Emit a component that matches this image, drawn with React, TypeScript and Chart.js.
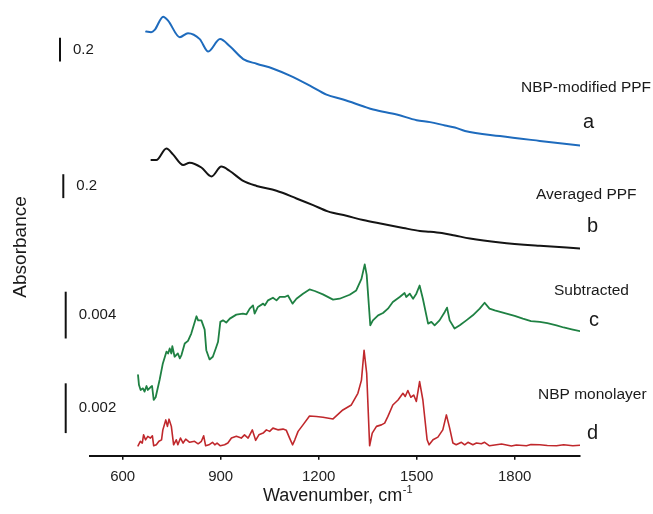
import React, { useEffect, useRef } from "react";
import { Chart, registerables } from "chart.js";

Chart.register(...registerables);

const FONT = "'Liberation Sans', Arial, Helvetica, sans-serif";

// x-axis tick labels (cm-1)
const xTickValues = [600, 900, 1200, 1500, 1800];

// (a) NBP-modified PPF
const modWavenumber = [672, 687, 698, 724, 739, 775, 800, 836, 862, 898, 929, 969, 1010, 1061, 1112, 1173, 1224, 1275, 1336, 1367, 1439, 1500, 1541, 1587, 1617, 1648, 1755, 1877, 2000];
const modAbsorbance = [0.986, 0.981, 1.0, 1.111, 1.078, 0.939, 0.973, 0.923, 0.819, 0.923, 0.861, 0.756, 0.717, 0.675, 0.617, 0.533, 0.458, 0.417, 0.361, 0.333, 0.292, 0.244, 0.228, 0.2, 0.183, 0.154, 0.111, 0.071, 0.033];

// (b) Averaged PPF
const avgWavenumber = [688, 703, 734, 754, 785, 805, 841, 872, 902, 928, 969, 1010, 1071, 1132, 1183, 1228, 1285, 1336, 1397, 1459, 1510, 1541, 1577, 1617, 1663, 1755, 1877, 2000];
const avgAbsorbance = [0.786, 0.786, 0.883, 0.833, 0.744, 0.764, 0.723, 0.648, 0.731, 0.694, 0.611, 0.569, 0.528, 0.464, 0.408, 0.356, 0.319, 0.283, 0.25, 0.217, 0.192, 0.186, 0.175, 0.154, 0.129, 0.096, 0.068, 0.046];

// (c) Subtracted
const subWavenumber = [647, 650, 655, 662, 667, 673, 677, 685, 690, 695, 701, 713, 723, 734, 739, 744, 749, 752, 759, 769, 775, 780, 790, 800, 810, 826, 831, 841, 851, 856, 866, 876, 885, 892, 899, 907, 917, 928, 948, 968, 979, 989, 999, 1004, 1014, 1030, 1035, 1045, 1060, 1071, 1081, 1096, 1106, 1120, 1132, 1152, 1172, 1188, 1213, 1244, 1264, 1295, 1315, 1331, 1341, 1347, 1358, 1366, 1382, 1397, 1412, 1427, 1448, 1463, 1468, 1479, 1489, 1499, 1509, 1519, 1535, 1545, 1555, 1570, 1586, 1593, 1601, 1616, 1632, 1652, 1672, 1693, 1708, 1723, 1739, 1775, 1800, 1825, 1850, 1877, 1900, 1928, 1950, 1978, 2000];
const subAbsorbance = [0.00283, 0.00198, 0.00156, 0.0017, 0.00142, 0.0019, 0.00156, 0.00179, 0.0019, 0.00071, 0.00094, 0.00241, 0.00383, 0.00483, 0.00468, 0.00511, 0.00468, 0.0053, 0.0044, 0.00468, 0.00426, 0.00454, 0.00553, 0.00576, 0.00638, 0.00786, 0.00751, 0.00751, 0.00672, 0.00496, 0.00417, 0.0044, 0.00511, 0.00568, 0.00738, 0.00751, 0.00732, 0.00766, 0.008, 0.00809, 0.00803, 0.00851, 0.00879, 0.00809, 0.00866, 0.00894, 0.00879, 0.00922, 0.00945, 0.00922, 0.00951, 0.00951, 0.00964, 0.00894, 0.00936, 0.00979, 0.01015, 0.01002, 0.00973, 0.00928, 0.00936, 0.0097, 0.01007, 0.01106, 0.0123, 0.0114, 0.00709, 0.00751, 0.00794, 0.00814, 0.00851, 0.00908, 0.00951, 0.00985, 0.00951, 0.00979, 0.00936, 0.00979, 0.01049, 0.00936, 0.00723, 0.00738, 0.00709, 0.00751, 0.00823, 0.0086, 0.00751, 0.00681, 0.00709, 0.00751, 0.00794, 0.00851, 0.00902, 0.00851, 0.00837, 0.00809, 0.0079, 0.00766, 0.00745, 0.00738, 0.00728, 0.00709, 0.0069, 0.00672, 0.00658];

// (d) NBP monolayer
const monoWavenumber = [647, 654, 660, 664, 670, 677, 685, 691, 695, 703, 711, 719, 723, 732, 737, 742, 749, 756, 764, 769, 777, 785, 793, 805, 820, 831, 841, 848, 854, 864, 875, 882, 889, 899, 912, 922, 933, 948, 963, 973, 984, 997, 1007, 1017, 1030, 1040, 1050, 1060, 1075, 1091, 1101, 1111, 1120, 1127, 1137, 1152, 1172, 1193, 1213, 1244, 1274, 1300, 1320, 1331, 1339, 1347, 1356, 1364, 1377, 1392, 1402, 1412, 1427, 1443, 1458, 1465, 1473, 1482, 1491, 1499, 1509, 1519, 1532, 1538, 1550, 1565, 1580, 1591, 1601, 1611, 1621, 1637, 1647, 1657, 1672, 1683, 1698, 1708, 1723, 1744, 1760, 1775, 1790, 1805, 1836, 1850, 1877, 1900, 1928, 1950, 1978, 2000];
const monoAbsorbance = [0.00009, 0.00027, 0.0002, 0.00053, 0.00033, 0.00047, 0.0004, 0.00049, 0.00009, 0.00013, 0.00027, 0.00033, 0.00073, 0.00113, 0.00087, 0.00116, 0.00087, 0.00013, 0.00033, 0.00013, 0.0004, 0.0002, 0.00036, 0.00023, 0.00027, 0.00017, 0.00027, 0.00049, 0.00009, 0.00013, 0.00023, 0.00013, 0.0002, 0.00009, 0.00013, 0.0002, 0.0004, 0.00047, 0.0004, 0.00053, 0.0004, 0.00073, 0.00031, 0.00053, 0.0006, 0.00073, 0.00067, 0.0008, 0.00073, 0.00076, 0.00071, 0.0004, 0.00013, 0.00033, 0.00067, 0.00093, 0.00129, 0.00127, 0.00124, 0.00117, 0.00153, 0.00173, 0.0022, 0.00273, 0.00393, 0.003, 0.00009, 0.0006, 0.00087, 0.00093, 0.001, 0.00127, 0.00173, 0.00193, 0.0022, 0.00207, 0.00231, 0.00204, 0.00213, 0.00187, 0.00267, 0.00193, 0.00033, 0.00013, 0.00033, 0.00044, 0.00073, 0.00133, 0.0008, 0.0002, 0.00013, 0.00023, 0.00013, 0.00023, 0.00013, 0.0002, 0.00017, 0.00023, 0.00009, 0.00013, 0.00016, 0.00012, 0.00008, 0.00012, 0.00009, 0.00014, 0.00013, 0.0001, 0.00009, 0.00013, 0.00009, 0.00011];

type Trace = {
  name: string;
  letter: string;
  wn: number[];
  abs: number[];
  color: string;
  width: number;
  smooth: boolean;
  offset: number; // vertical stacking offset (display units)
  gain: number; // display units per absorbance unit
  barFrom: number; // absorbance where scale bar starts
  barSize: number; // absorbance length of the scale bar
  barLabel: string;
  barDx: number;
  nameDx: number;
  nameY: number;
  letterDx: number;
  letterY: number;
};

const traces: Trace[] = [
  { name: "NBP-modified PPF", letter: "a", wn: modWavenumber, abs: modAbsorbance, color: "#1e6bbd", width: 2, smooth: true, offset: 307.7, gain: 120, barFrom: 0.735, barSize: 0.2, barLabel: "0.2", barDx: -30, nameDx: -59, nameY: 365, letterDx: 3, letterY: 328.7 },
  { name: "Averaged PPF", letter: "b", wn: avgWavenumber, abs: avgAbsorbance, color: "#141414", width: 2, smooth: true, offset: 202.7, gain: 120, barFrom: 0.467, barSize: 0.2, barLabel: "0.2", barDx: -26.7, nameDx: -44, nameY: 257.7, letterDx: 7, letterY: 224.7 },
  { name: "Subtracted", letter: "c", wn: subWavenumber, abs: subAbsorbance, color: "#1f8143", width: 1.8, smooth: false, offset: 47.7, gain: 11750, barFrom: 0.00596, barSize: 0.004, barLabel: "0.004", barDx: -24.3, nameDx: -26, nameY: 161, letterDx: 9, letterY: 130.4 },
  { name: "NBP monolayer", letter: "d", wn: monoWavenumber, abs: monoAbsorbance, color: "#c0282c", width: 1.6, smooth: false, offset: 7.7, gain: 25000, barFrom: 0.0006, barSize: 0.002, barLabel: "0.002", barDx: -24.3, nameDx: -42, nameY: 57, letterDx: 7, letterY: 17 },
];

const annotatePlugin = {
  id: "annotate",
  afterDraw(chart: any) {
    const { ctx, chartArea, scales } = chart;
    const y = scales.y;
    ctx.save();
    ctx.fillStyle = "#1a1a1a";
    ctx.strokeStyle = "#111";

    // y-axis title
    ctx.save();
    ctx.translate(chartArea.left - 69, y.getPixelForValue(209.7));
    ctx.rotate(-Math.PI / 2);
    ctx.font = `19px ${FONT}`;
    ctx.textAlign = "center";
    ctx.textBaseline = "middle";
    ctx.fillText("Absorbance", 0, 0);
    ctx.restore();

    traces.forEach((t) => {
      // scale bar
      const y0 = y.getPixelForValue(t.offset + t.barFrom * t.gain);
      const y1 = y.getPixelForValue(t.offset + (t.barFrom + t.barSize) * t.gain);
      const bx = chartArea.left + t.barDx;
      ctx.lineWidth = 2;
      ctx.beginPath();
      ctx.moveTo(bx, y0);
      ctx.lineTo(bx, y1);
      ctx.stroke();
      ctx.font = `15px ${FONT}`;
      ctx.textAlign = "left";
      ctx.textBaseline = "middle";
      ctx.fillText(t.barLabel, bx + 13, (y0 + y1) / 2);

      // series name
      ctx.font = `15.5px ${FONT}`;
      ctx.textBaseline = "alphabetic";
      ctx.fillText(t.name, chartArea.right + t.nameDx, y.getPixelForValue(t.nameY));
      // letter
      ctx.font = `20px ${FONT}`;
      ctx.fillText(t.letter, chartArea.right + t.letterDx, y.getPixelForValue(t.letterY));
    });

    // x-axis title with superscript
    const main = "Wavenumber, cm";
    const sup = "-1";
    ctx.font = `18px ${FONT}`;
    const wMain = ctx.measureText(main).width;
    ctx.font = `11px ${FONT}`;
    const wSup = ctx.measureText(sup).width;
    const cx = (chartArea.left + chartArea.right) / 2 + 2.5;
    const startX = cx - (wMain + wSup) / 2;
    const base = chartArea.bottom + 45.6;
    ctx.textAlign = "left";
    ctx.textBaseline = "alphabetic";
    ctx.font = `18px ${FONT}`;
    ctx.fillText(main, startX, base);
    ctx.font = `11px ${FONT}`;
    ctx.fillText(sup, startX + wMain + 0.5, base - 8);

    ctx.restore();
  },
};

export default function App() {
  const canvasRef = useRef<HTMLCanvasElement | null>(null);

  useEffect(() => {
    if (!canvasRef.current) return;
    const chart = new Chart(canvasRef.current, {
      type: "line",
      data: {
        datasets: traces.map((t) => ({
          label: t.name,
          data: t.wn.map((w, i) => ({ x: w, y: t.offset + t.abs[i] * t.gain })),
          borderColor: t.color,
          borderWidth: t.width,
          pointRadius: 0,
          fill: false,
          tension: t.smooth ? 0.4 : 0,
          cubicInterpolationMode: t.smooth ? "monotone" : "default",
          borderJoinStyle: "round",
          borderCapStyle: "round",
        })),
      },
      options: {
        responsive: false,
        animation: false,
        events: [],
        layout: { padding: { left: 90, right: 73, top: 7.7, bottom: 20.3 } },
        plugins: { legend: { display: false }, tooltip: { enabled: false }, title: { display: false } },
        scales: {
          x: {
            type: "linear",
            min: 500,
            max: 2000,
            afterBuildTicks: (scale: any) => {
              scale.ticks = xTickValues.map((v) => ({ value: v }));
            },
            ticks: {
              autoSkip: false,
              maxRotation: 0,
              padding: 8,
              color: "#222",
              font: { family: FONT, size: 15 },
              callback: (v: any) => String(v),
            },
            grid: { drawOnChartArea: false, drawTicks: true, tickLength: 4, color: "#111", lineWidth: 1.5 },
            border: { display: true, color: "#111", width: 2 },
          },
          y: { type: "linear", display: false, min: 0, max: 450 },
        },
      },
      plugins: [annotatePlugin],
    } as any);
    return () => chart.destroy();
  }, []);

  return (
    <div style={{ position: "absolute", left: 0, top: 0, width: 653, height: 514, background: "#fff" }}>
      <canvas ref={canvasRef} width={653} height={514} style={{ display: "block", width: 653, height: 514 }} />
    </div>
  );
}
